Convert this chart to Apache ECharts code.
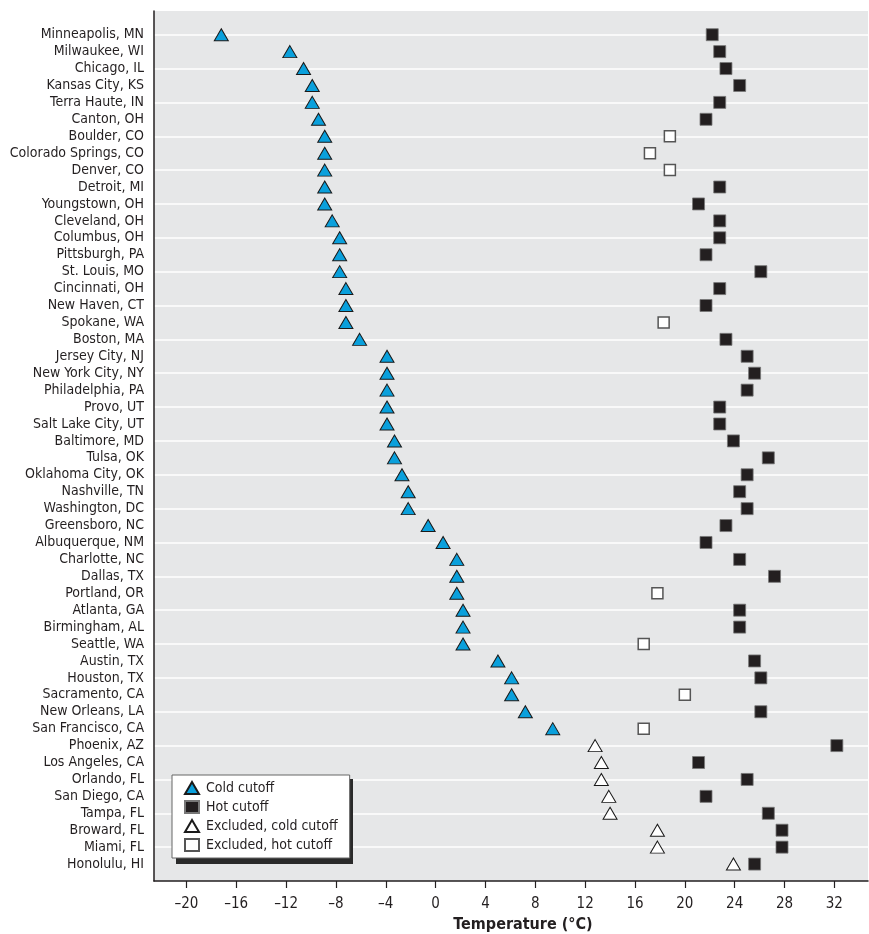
<!DOCTYPE html>
<html>
<head>
<meta charset="utf-8">
<script src="https://cdn.jsdelivr.net/npm/echarts@6/dist/echarts.min.js"></script>
<style>html,body{margin:0;padding:0;background:#fff}#c{width:869px;height:934px}</style>
</head>
<body>
<div id="c"></div>
<script>
const cities = ["Minneapolis, MN","Milwaukee, WI","Chicago, IL","Kansas City, KS","Terra Haute, IN","Canton, OH","Boulder, CO","Colorado Springs, CO","Denver, CO","Detroit, MI","Youngstown, OH","Cleveland, OH","Columbus, OH","Pittsburgh, PA","St. Louis, MO","Cincinnati, OH","New Haven, CT","Spokane, WA","Boston, MA","Jersey City, NJ","New York City, NY","Philadelphia, PA","Provo, UT","Salt Lake City, UT","Baltimore, MD","Tulsa, OK","Oklahoma City, OK","Nashville, TN","Washington, DC","Greensboro, NC","Albuquerque, NM","Charlotte, NC","Dallas, TX","Portland, OR","Atlanta, GA","Birmingham, AL","Seattle, WA","Austin, TX","Houston, TX","Sacramento, CA","New Orleans, LA","San Francisco, CA","Phoenix, AZ","Los Angeles, CA","Orlando, FL","San Diego, CA","Tampa, FL","Broward, FL","Miami, FL","Honolulu, HI"];

const coldCutoff = [-17.2,-11.7,-10.6,-9.9,-9.9,-9.4,-8.9,-8.9,-8.9,-8.9,-8.9,-8.3,-7.7,-7.7,-7.7,-7.2,-7.2,-7.2,-6.1,-3.9,-3.9,-3.9,-3.9,-3.9,-3.3,-3.3,-2.7,-2.2,-2.2,-0.6,0.6,1.7,1.7,1.7,2.2,2.2,2.2,5.0,6.1,6.1,7.2,9.4,null,null,null,null,null,null,null,null];
const excludedCold = [null,null,null,null,null,null,null,null,null,null,null,null,null,null,null,null,null,null,null,null,null,null,null,null,null,null,null,null,null,null,null,null,null,null,null,null,null,null,null,null,null,null,12.8,13.3,13.3,13.9,14.0,17.8,17.8,23.9];
const hotCutoff = [22.2,22.8,23.3,24.4,22.8,21.7,null,null,null,22.8,21.1,22.8,22.8,21.7,26.1,22.8,21.7,null,23.3,25.0,25.6,25.0,22.8,22.8,23.9,26.7,25.0,24.4,25.0,23.3,21.7,24.4,27.2,null,24.4,24.4,null,25.6,26.1,null,26.1,null,32.2,21.1,25.0,21.7,26.7,27.8,27.8,25.6];
const excludedHot = [null,null,null,null,null,null,18.8,17.2,18.8,null,null,null,null,null,null,null,null,18.3,null,null,null,null,null,null,null,null,null,null,null,null,null,null,null,17.8,null,null,16.7,null,null,20.0,null,16.7,null,null,null,null,null,null,null,null];

const xTicks = [-20,-16,-12,-8,-4,0,4,8,12,16,20,24,28,32];
const legendNames = ["Cold cutoff","Hot cutoff","Excluded, cold cutoff","Excluded, hot cutoff"];

const toPts = arr => arr.map((v,i) => v == null ? null : [v,i]).filter(p => p);
const rowIdx = cities.map((c,i) => i);
const gridRows = rowIdx.filter(i => i % 2 === 0 && i < cities.length - 1);

const FONT = '"DejaVu Sans Condensed", "Liberation Sans Narrow", "Roboto", sans-serif';
const TXT = '#231f20';

const chart = echarts.init(document.getElementById('c'), null, {renderer:'canvas'});
chart.setOption({
  animation: false,
  backgroundColor: '#ffffff',
  textStyle: {fontFamily: FONT},
  grid: {left: 154, right: 1, top: 11, bottom: 53, show: true, backgroundColor: '#e6e7e8', borderWidth: 0,
         containLabel: false, outerBoundsMode: 'none'},
  graphic: [{
    type: 'rect', z: 3, silent: true,
    shape: {x: 176, y: 779, width: 177, height: 85},
    style: {fill: '#2a2a2a'}
  }],
  xAxis: {
    type: 'value', min: -22.6, max: 34.7,
    axisLine: {show: true, onZero: false, lineStyle: {color: TXT, width: 1.5}},
    axisTick: {show: true, length: 7, lineStyle: {color: TXT, width: 1.2}, customValues: xTicks},
    axisLabel: {customValues: xTicks, color: TXT, fontSize: 15, fontFamily: FONT, margin: 16,
      formatter: v => String(v).replace('-', '\u2013')},
    splitLine: {show: false},
    name: 'Temperature (\u00b0C)', nameLocation: 'middle', nameGap: 36,
    nameTextStyle: {fontSize: 16, fontWeight: 'bold', color: TXT, fontFamily: FONT, padding: [0,0,0,24]}
  },
  yAxis: {
    type: 'value', inverse: true, min: -1.4, max: 50,
    axisLine: {show: true, onZero: false, lineStyle: {color: TXT, width: 1.5}},
    axisTick: {show: false, customValues: gridRows},
    axisLabel: {customValues: rowIdx, color: TXT, fontSize: 14, fontFamily: FONT, margin: 10,
      formatter: v => cities[v] || ''},
    splitLine: {show: true, lineStyle: {color: '#ffffff', width: 1.5}}
  },
  legend: {
    orient: 'vertical', left: 172, top: 775, z: 4,
    data: legendNames,
    backgroundColor: '#ffffff', borderColor: '#666666', borderWidth: 1,
    padding: [6, 12, 6, 12], itemGap: 5, itemWidth: 14, itemHeight: 12,
    textStyle: {fontSize: 14, color: TXT, fontFamily: FONT, padding: [0,0,0,2]}
  },
  series: [
    {name: legendNames[0], type: 'scatter', symbol: 'triangle', symbolSize: [14, 12], z: 3,
     itemStyle: {color: '#0aa0dc', borderColor: '#1a1a1a', borderWidth: 1, opacity: 1}, data: toPts(coldCutoff)},
    {name: legendNames[1], type: 'scatter', symbol: 'rect', symbolSize: 12, z: 3,
     itemStyle: {color: '#231f20', borderColor: '#777777', borderWidth: 0.8, opacity: 1}, data: toPts(hotCutoff)},
    {name: legendNames[2], type: 'scatter', symbol: 'triangle', symbolSize: [14, 12], z: 3,
     itemStyle: {color: '#ffffff', borderColor: '#1a1a1a', borderWidth: 1, opacity: 1}, data: toPts(excludedCold)},
    {name: legendNames[3], type: 'scatter', symbol: 'rect', symbolSize: 11, z: 3,
     itemStyle: {color: '#ffffff', borderColor: '#555555', borderWidth: 1.5, opacity: 1}, data: toPts(excludedHot)}
  ]
});
</script>
</body>
</html>
